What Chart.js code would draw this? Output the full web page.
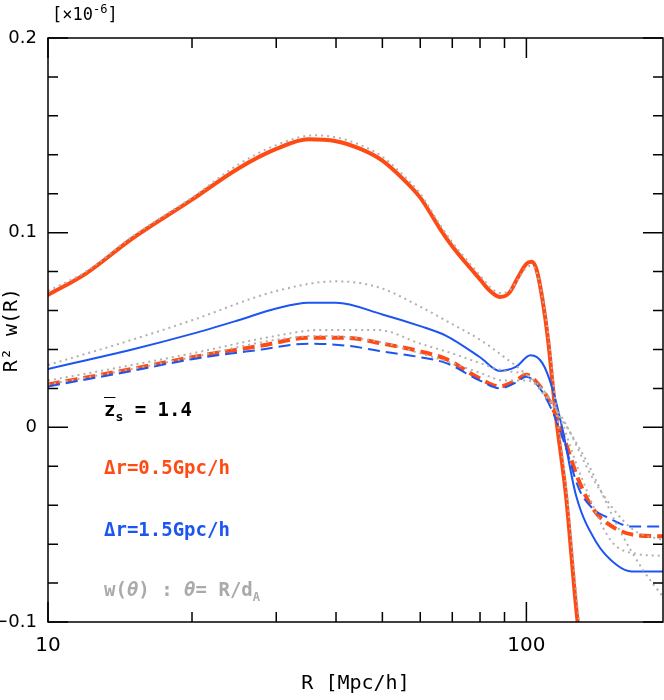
<!DOCTYPE html>
<html>
<head>
<meta charset="utf-8">
<script src="https://cdn.jsdelivr.net/npm/chart.js@4"></script>
<style>
  html, body { margin: 0; padding: 0; background: #fff; }
  #wrap { position: relative; width: 664px; height: 700px; }
  .lbl { position: absolute; font-family: "DejaVu Sans Mono", monospace; font-size: 19px; font-weight: bold; }
</style>
</head>
<body>
<div id="wrap">
  <canvas id="c" width="664" height="700"></canvas>
  <div class="lbl" style="left:104px;top:398px;color:#000"><span style="text-decoration:overline">z</span><sub style="font-size:13px">s</sub> = 1.4</div>
  <div class="lbl" style="left:104px;top:456px;color:#ff4a14">&Delta;r=0.5Gpc/h</div>
  <div class="lbl" style="left:104px;top:518px;color:#1c55f0">&Delta;r=1.5Gpc/h</div>
  <div class="lbl" style="left:104px;top:578px;color:#aaaaaa">w(<i>&theta;</i>) : <i>&theta;</i>= R/d<sub style="font-size:12px">A</sub></div>
  <div class="lbl" style="left:52px;top:2px;font-size:17px;font-weight:normal">[&times;10<sup style="font-size:12px">-6</sup>]</div>
</div>
<script>
const redSolidR = [10, 12, 15, 20, 25, 30, 35, 40, 45, 50, 55, 60, 66, 70, 75, 80, 84, 88, 92, 96, 100, 102.5, 105, 108, 111, 115, 121, 128, 132];
const redSolidW = [0.068, 0.079, 0.097, 0.117, 0.133, 0.143, 0.148, 0.147, 0.143, 0.137, 0.128, 0.118, 0.102, 0.093, 0.084, 0.076, 0.070, 0.067, 0.069, 0.077, 0.084, 0.085, 0.081, 0.066, 0.045, 0.008, -0.035, -0.100, -0.120];
const redModelR = [10, 12, 15, 20, 25, 30, 36, 40, 45, 50, 55, 60, 66, 70, 75, 80, 84, 88, 92, 96, 100, 102.5, 105, 108, 111, 115, 121, 129, 133];
const redModelW = [0.070, 0.080, 0.098, 0.118, 0.135, 0.145, 0.150, 0.149, 0.145, 0.139, 0.130, 0.120, 0.104, 0.095, 0.086, 0.078, 0.072, 0.069, 0.070, 0.076, 0.082, 0.083, 0.080, 0.067, 0.048, 0.013, -0.030, -0.100, -0.120];

const blueSolidR = [10, 15, 20, 25, 30, 35, 40, 50, 60, 68, 80, 88, 95, 102, 108, 113, 119, 127, 140, 155, 166, 193];
const blueSolidW = [0.030, 0.040, 0.048, 0.055, 0.061, 0.064, 0.064, 0.058, 0.052, 0.047, 0.036, 0.029, 0.031, 0.037, 0.033, 0.021, -0.001, -0.035, -0.059, -0.071, -0.074, -0.074];
const blueDashR = [10, 15, 20, 28, 35, 42, 50, 60, 68, 80, 88, 95, 100, 106, 113, 120, 129, 138, 147, 166, 193];
const blueDashW = [0.021, 0.029, 0.035, 0.040, 0.043, 0.042, 0.039, 0.036, 0.033, 0.024, 0.020, 0.023, 0.026, 0.021, 0.009, -0.008, -0.032, -0.042, -0.046, -0.051, -0.051];
const redDashR = [10, 15, 20, 28, 35, 42, 50, 60, 68, 80, 88, 95, 100, 106, 113, 120, 129, 138, 147, 166, 193];
const redDashW = [0.022, 0.030, 0.036, 0.042, 0.046, 0.046, 0.043, 0.039, 0.035, 0.025, 0.021, 0.024, 0.027, 0.022, 0.011, -0.006, -0.028, -0.042, -0.049, -0.055, -0.056];

const grayUpR = [10, 15, 20, 30, 40, 49, 60, 70, 80, 90, 100, 115, 134, 156, 175, 193];
const grayUpW = [0.032, 0.045, 0.055, 0.070, 0.075, 0.072, 0.062, 0.053, 0.045, 0.036, 0.027, 0.009, -0.018, -0.052, -0.073, -0.087];
const grayLowR = [10, 15, 20, 30, 37, 49, 60, 70, 80, 90, 100, 110, 120, 139, 166, 193];
const grayLowW = [0.024, 0.032, 0.038, 0.047, 0.050, 0.050, 0.043, 0.038, 0.033, 0.029, 0.027, 0.017, 0.003, -0.028, -0.052, -0.058];
const grayMidR = [10, 15, 20, 30, 37, 49, 60, 70, 80, 90, 100, 115, 130, 150, 170, 193];
const grayMidW = [0.022, 0.030, 0.036, 0.045, 0.047, 0.044, 0.038, 0.033, 0.028, 0.024, 0.024, 0.010, -0.025, -0.058, -0.065, -0.066];

const xMajor = [10, 100];
const xMinor = [20, 30, 40, 50, 60, 70, 80, 90];
const yMajor = [-0.1, 0, 0.1, 0.2];

const toPts = (xs, ys) => xs.map((x, i) => ({ x: x, y: ys[i] }));

function line(xs, ys, color, width, dash) {
    return {
        data: toPts(xs, ys),
        borderColor: color,
        borderWidth: width,
        borderDash: dash || [],
        pointRadius: 0,
        showLine: true,
        fill: false,
        cubicInterpolationMode: 'monotone'
    };
}

const GRAY = '#b0b0b0';
const RED = '#ff4a14';
const BLUE = '#1c55f0';

// ticks drawn inward on all four sides
const frameTicks = {
    id: 'frameTicks',
    afterDraw(chart) {
        const { ctx, chartArea: a, scales } = chart;
        ctx.save();
        ctx.strokeStyle = '#000';
        ctx.lineWidth = 1.5;
        ctx.strokeRect(a.left, a.top, a.right - a.left, a.bottom - a.top);
        ctx.beginPath();
        const xt = (v, len) => {
            const p = scales.x.getPixelForValue(v);
            ctx.moveTo(p, a.bottom); ctx.lineTo(p, a.bottom - len);
            ctx.moveTo(p, a.top); ctx.lineTo(p, a.top + len);
        };
        xMajor.forEach(v => xt(v, 20));
        xMinor.forEach(v => xt(v, 10));
        for (let i = -5; i <= 10; i++) {
            const p = scales.y.getPixelForValue(i * 0.02);
            const len = (i % 5 === 0) ? 20 : 10;
            ctx.moveTo(a.left, p); ctx.lineTo(a.left + len, p);
            ctx.moveTo(a.right, p); ctx.lineTo(a.right - len, p);
        }
        ctx.stroke();
        ctx.restore();
    }
};

new Chart(document.getElementById('c'), {
    type: 'scatter',
    data: {
        datasets: [
            line(grayUpR, grayUpW, GRAY, 2, [2, 4]),
            line(grayLowR, grayLowW, GRAY, 2, [2, 4]),
            line(grayMidR, grayMidW, GRAY, 2, [2, 4]),
            line(redModelR, redModelW, GRAY, 2, [2, 4]),
            line(blueSolidR, blueSolidW, BLUE, 2),
            line(blueDashR, blueDashW, BLUE, 2, [12, 6]),
            line(redDashR, redDashW, RED, 4, [12, 6]),
            line(redSolidR, redSolidW, RED, 4)
        ]
    },
    options: {
        responsive: false,
        animation: false,
        layout: { padding: { top: 38, right: 1 } },
        plugins: { legend: { display: false }, tooltip: { enabled: false } },
        scales: {
            x: {
                type: 'logarithmic',
                min: 10,
                max: 193,
                grid: { display: false },
                border: { display: false },
                afterBuildTicks: s => { s.ticks = xMajor.map(v => ({ value: v })); },
                afterFit: s => { s.height = 78; },
                ticks: {
                    callback: v => String(v),
                    color: '#000',
                    font: { family: 'DejaVu Sans', size: 20 },
                    padding: 4
                },
                title: {
                    display: true, text: 'R [Mpc/h]', color: '#000',
                    font: { family: 'DejaVu Sans Mono', size: 20 }, padding: 4
                }
            },
            y: {
                min: -0.1,
                max: 0.2,
                grid: { display: false },
                border: { display: false },
                afterBuildTicks: s => { s.ticks = yMajor.map(v => ({ value: v })); },
                afterFit: s => { s.width = 48; },
                ticks: {
                    callback: v => (Math.abs(v) < 1e-9 ? '0' : String(v).replace('-', '\u2212')),
                    color: '#000',
                    font: { family: 'DejaVu Sans', size: 18 },
                    padding: 3
                },
                title: {
                    display: true, text: 'R\u00b2 w(R)', color: '#000',
                    font: { family: 'DejaVu Sans Mono', size: 20 }, padding: 0
                }
            }
        }
    },
    plugins: [frameTicks]
});
</script>
</body>
</html>
